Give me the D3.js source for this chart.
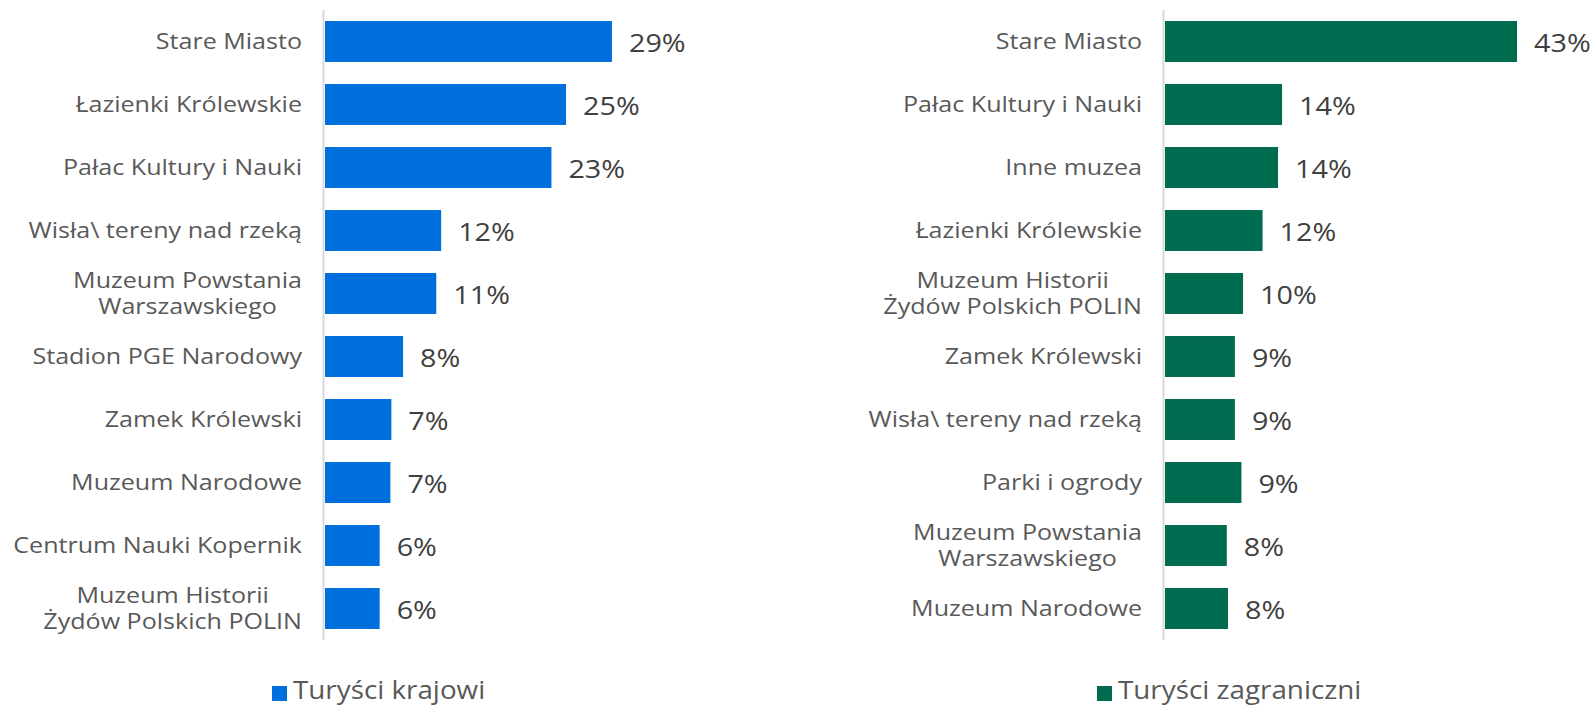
<!DOCTYPE html>
<html>
<head>
<meta charset="utf-8">
<script src="https://cdn.jsdelivr.net/npm/d3@7"></script>
<style>
html,body{margin:0;padding:0;background:#fff;}
svg text{font-family:"Open Sans",sans-serif;}
</style>
</head>
<body>
<svg id="chart" width="1594" height="706"></svg>
<script>
// Data
const domesticCategories = [
  "Stare Miasto",
  "Łazienki Królewskie",
  "Pałac Kultury i Nauki",
  "Wisła\\ tereny nad rzeką",
  "Muzeum Powstania|Warszawskiego",
  "Stadion PGE Narodowy",
  "Zamek Królewski",
  "Muzeum Narodowe",
  "Centrum Nauki Kopernik",
  "Muzeum Historii|Żydów Polskich POLIN"
];
const domesticValues = [29.4, 24.7, 23.2, 11.9, 11.4, 8.0, 6.8, 6.7, 5.6, 5.6];

const foreignCategories = [
  "Stare Miasto",
  "Pałac Kultury i Nauki",
  "Inne muzea",
  "Łazienki Królewskie",
  "Muzeum Historii|Żydów Polskich POLIN",
  "Zamek Królewski",
  "Wisła\\ tereny nad rzeką",
  "Parki i ogrody",
  "Muzeum Powstania|Warszawskiego",
  "Muzeum Narodowe"
];
const foreignValues = [43.3, 14.4, 13.9, 12.0, 9.6, 8.6, 8.6, 9.4, 7.6, 7.75];

const seriesNames = ["Turyści krajowi", "Turyści zagraniczni"];
const seriesColors = ["#006FDE", "#006B4F"];

const svg = d3.select("#chart");
const CAT_FS = 22.5, CAT_SX = 1.115;
const VAL_FS = 25, VAL_SX = 1.15;
const LEG_FS = 26, LEG_SX = 1.07;

function drawPanel(cats, vals, cfg) {
  const g = svg.append("g");
  const x = d3.scaleLinear().domain([0, cfg.max]).range([cfg.x0, cfg.x0 + cfg.max * cfg.pxPer]);
  const y = d3.scaleBand().domain(cats).range([10, 640]).paddingInner(0.35).paddingOuter(0.175);

  g.selectAll("rect.bar").data(cats).join("rect")
    .attr("class", "bar")
    .attr("x", x(0))
    .attr("y", d => y(d))
    .attr("width", (d, i) => x(vals[i]) - x(0))
    .attr("height", y.bandwidth())
    .attr("fill", cfg.color);

  // axis line
  g.append("line")
    .attr("x1", x(0) - 1.5).attr("x2", x(0) - 1.5)
    .attr("y1", 10).attr("y2", 640)
    .attr("stroke", "#d9d9d9").attr("stroke-width", 2);

  // value labels
  cats.forEach((c, i) => {
    g.append("g")
      .attr("transform", `translate(${x(vals[i]) + 17},${y(c) + y.bandwidth() / 2}) scale(${VAL_SX},1)`)
      .append("text")
      .attr("dy", "0.42em")
      .style("font-size", VAL_FS + "px")
      .style("fill", "#404040")
      .text(Math.round(vals[i]) + "%");
  });

  // category labels
  cats.forEach(c => {
    const lines = c.split("|");
    const cy = y(c) + y.bandwidth() / 2;
    const right = x(0) - 23;
    const lg = g.append("g").attr("transform", `translate(${right},${cy}) scale(${CAT_SX},1)`);
    const t = lg.append("text")
      .style("font-size", CAT_FS + "px")
      .style("fill", "#595959");
    if (lines.length === 1) {
      t.attr("text-anchor", "end").attr("dy", "0.32em").text(lines[0]);
    } else {
      t.attr("text-anchor", "middle");
      const spans = lines.map((l, k) => t.append("tspan")
        .attr("y", (k - (lines.length - 1) / 2) * 26.4)
        .attr("dy", "0.32em")
        .text(l));
      const maxW = d3.max(spans, s => s.node().getComputedTextLength());
      spans.forEach(s => s.attr("x", -maxW / 2));
    }
  });

  // legend
  const lgd = svg.append("g");
  lgd.append("rect").attr("x", cfg.legX).attr("y", 686).attr("width", 15).attr("height", 15).attr("fill", cfg.color);
  lgd.append("g").attr("transform", `translate(${cfg.legX + 21},698.5) scale(${LEG_SX},1)`)
    .append("text")
    .style("font-size", LEG_FS + "px")
    .style("fill", "#595959")
    .text(cfg.name);
}

drawPanel(domesticCategories, domesticValues, {
  x0: 325, max: 30, pxPer: 9.76, color: seriesColors[0], name: seriesNames[0], legX: 272
});
drawPanel(foreignCategories, foreignValues, {
  x0: 1165, max: 45, pxPer: 8.13, color: seriesColors[1], name: seriesNames[1], legX: 1097
});
</script>
</body>
</html>
